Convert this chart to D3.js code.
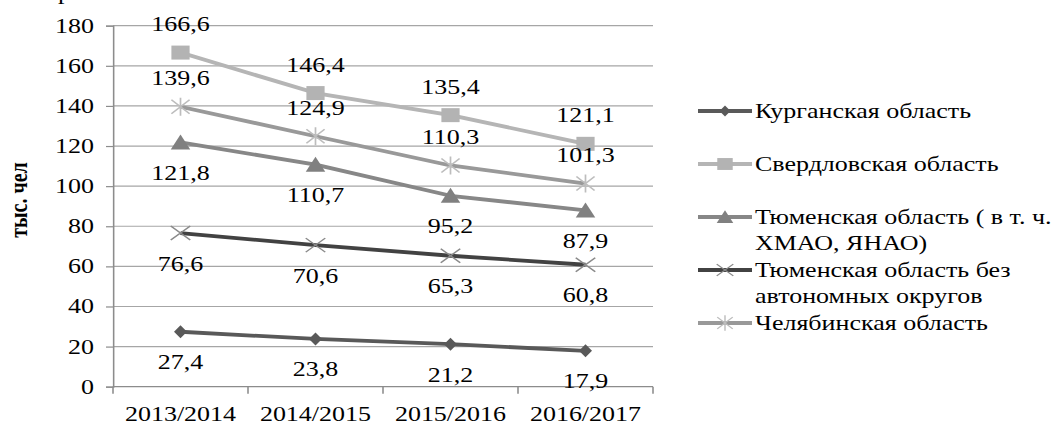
<!DOCTYPE html>
<html>
<head>
<meta charset="utf-8">
<script src="https://cdn.jsdelivr.net/npm/d3@7"></script>
<style>
  html, body { margin: 0; padding: 0; background: #fff; }
  svg { display: block; }
  text { font-family: "Liberation Serif", "Times New Roman", serif; fill: #000; }
</style>
</head>
<body>
<svg id="chart" width="1053" height="426"></svg>
<script>
// Academic years on the horizontal axis
const categories = ["2013/2014", "2014/2015", "2015/2016", "2016/2017"];

// Population, thousand people, per region
const kurgan      = [27.4, 23.8, 21.2, 17.9];
const sverdlovsk  = [166.6, 146.4, 135.4, 121.1];
const tyumenAll   = [121.8, 110.7, 95.2, 87.9];
const tyumenOnly  = [76.6, 70.6, 65.3, 60.8];
const chelyabinsk = [139.6, 124.9, 110.3, 101.3];

const seriesNames = [
  "Курганская область",
  "Свердловская область",
  "Тюменская область ( в т. ч. ХМАО, ЯНАО)",
  "Тюменская область без автономных округов",
  "Челябинская область"
];
const legendLines = [
  ["Курганская область"],
  ["Свердловская область"],
  ["Тюменская область ( в т. ч.", "ХМАО, ЯНАО)"],
  ["Тюменская область без", "автономных округов"],
  ["Челябинская область"]
];
const yTicks = [0, 20, 40, 60, 80, 100, 120, 140, 160, 180];
const yTitle = "тыс. чел";

// Drawing styles for each series
const styles = [
  { line: "#595959", marker: "diamond",  fill: "#595959", stroke: "none",    label: "below" },
  { line: "#b5b5b5", marker: "square",   fill: "#b3b3b3", stroke: "none",    label: "above" },
  { line: "#878787", marker: "triangle", fill: "#808080", stroke: "none",    label: "below" },
  { line: "#424242", marker: "cross",    fill: "none",    stroke: "#8a8a8a", label: "below" },
  { line: "#999999", marker: "star",     fill: "none",    stroke: "#bdbdbd", label: "above" }
];

const values = [kurgan, sverdlovsk, tyumenAll, tyumenOnly, chelyabinsk];
const series = seriesNames.map((name, i) => ({ name, values: values[i], style: styles[i], lines: legendLines[i] }));

// The whole drawing is laid out in a narrower frame and stretched horizontally
const SX = 1.3;
const svg = d3.select("#chart");
const root = svg.append("g").attr("transform", `scale(${SX},1)`);

const plot = { left: 113 / SX, right: 653 / SX, top: 25.7, bottom: 386.7 };

const x = d3.scaleBand().domain(categories).range([plot.left, plot.right]).padding(0);
const y = d3.scaleLinear().domain([0, 180]).range([plot.bottom, plot.top]);
const cx = c => x(c) + x.bandwidth() / 2;

const fmt = v => d3.format(".1f")(v).replace(".", ",");

// Horizontal gridlines
root.append("g")
  .selectAll("line")
  .data(yTicks.filter(t => t > 0))
  .join("line")
  .attr("x1", plot.left).attr("x2", plot.right)
  .attr("y1", d => y(d)).attr("y2", d => y(d))
  .attr("stroke", "#a6a6a6").attr("stroke-width", 1.2);

// Vertical axis
const yAxis = root.append("g")
  .attr("transform", `translate(${plot.left},0)`)
  .call(d3.axisLeft(y).tickValues(yTicks).tickSize(7 / SX).tickPadding(12 / SX).tickFormat(d3.format("d")));
yAxis.select(".domain").attr("stroke", "#8c8c8c").attr("stroke-width", 1.2);
yAxis.selectAll(".tick line").attr("stroke", "#8c8c8c").attr("stroke-width", 1.2);
yAxis.selectAll(".tick text").attr("font-size", 20).attr("font-family", "Liberation Serif").attr("fill", "#000");

// Horizontal axis: line, boundary ticks, category labels
const xg = root.append("g");
xg.append("line")
  .attr("x1", plot.left).attr("x2", plot.right)
  .attr("y1", y(0)).attr("y2", y(0))
  .attr("stroke", "#8c8c8c").attr("stroke-width", 1.2);
xg.selectAll("line.bt")
  .data(categories.map(c => x(c)).concat([x.range()[1]]))
  .join("line").attr("class", "bt")
  .attr("x1", d => d).attr("x2", d => d)
  .attr("y1", y(0)).attr("y2", y(0) + 7)
  .attr("stroke", "#8c8c8c").attr("stroke-width", 1.2);
xg.selectAll("text")
  .data(categories)
  .join("text")
  .attr("x", d => cx(d)).attr("y", 421)
  .attr("text-anchor", "middle").attr("font-size", 20)
  .text(d => d);

// Axis title
root.append("text")
  .attr("transform", `translate(${27 / SX},${200}) rotate(-90)`)
  .attr("text-anchor", "middle").attr("font-size", 20).attr("font-weight", "bold")
  .text(yTitle);

// Trailing glyph of the caption above the chart
root.append("text")
  .attr("x", 58 / SX).attr("y", -1).attr("font-size", 20).text("р");

// Marker paths in the drawing frame
function markerPath(kind) {
  switch (kind) {
    case "diamond":  return "M0,-6.5L5,0L0,6.5L-5,0Z";
    case "square":   return "M-7,-7H7V7H-7Z";
    case "triangle": return "M0,-8L7.5,7H-7.5Z";
    case "cross":    return "M-7.5,-7L7.5,7M-7.5,7L7.5,-7";
    case "star":     return "M-7,-7L7,7M-7,7L7,-7M0,-9V9";
  }
}

const line = d3.line().x((d, i) => cx(categories[i])).y(d => y(d));

const sg = root.append("g").selectAll("g").data(series).join("g");
sg.append("path")
  .attr("d", d => line(d.values))
  .attr("fill", "none")
  .attr("stroke", d => d.style.line)
  .attr("stroke-width", 3.8)
  .attr("stroke-linejoin", "round");

sg.each(function (s) {
  const g = d3.select(this);
  g.selectAll("path.m")
    .data(s.values)
    .join("path").attr("class", "m")
    .attr("transform", (v, i) => `translate(${cx(categories[i])},${y(v)})`)
    .attr("d", markerPath(s.style.marker))
    .attr("fill", s.style.fill)
    .attr("stroke", s.style.stroke)
    .attr("stroke-width", 1.3);
});

// Value labels
sg.each(function (s) {
  d3.select(this).selectAll("text.v")
    .data(s.values)
    .join("text").attr("class", "v")
    .attr("x", (v, i) => cx(categories[i]))
    .attr("y", v => s.style.label === "above" ? y(v) - 21.5 : y(v) + 37.5)
    .attr("text-anchor", "middle").attr("font-size", 20)
    .text(v => fmt(v));
});

// Legend
const legend = root.append("g");
const legendY = d3.scalePoint().domain(seriesNames).range([111, 323]);
const lx0 = 698 / SX, lx1 = 752 / SX, ltx = 755 / SX;
const items = legend.selectAll("g").data(series).join("g")
  .attr("transform", d => `translate(0,${legendY(d.name)})`);
items.append("line")
  .attr("x1", lx0).attr("x2", lx1).attr("y1", 0).attr("y2", 0)
  .attr("stroke", d => d.style.line).attr("stroke-width", 3.8);
items.append("path")
  .attr("transform", `translate(${(lx0 + lx1) / 2},0) scale(0.85)`)
  .attr("d", d => markerPath(d.style.marker))
  .attr("fill", d => d.style.fill)
  .attr("stroke", d => d.style.stroke)
  .attr("stroke-width", 1.3);
items.each(function (s) {
  d3.select(this).selectAll("text")
    .data(s.lines)
    .join("text")
    .attr("x", ltx).attr("y", (t, i) => i * 26)
    .attr("dy", "0.34em").attr("font-size", 20)
    .text(t => t);
});
</script>
</body>
</html>
